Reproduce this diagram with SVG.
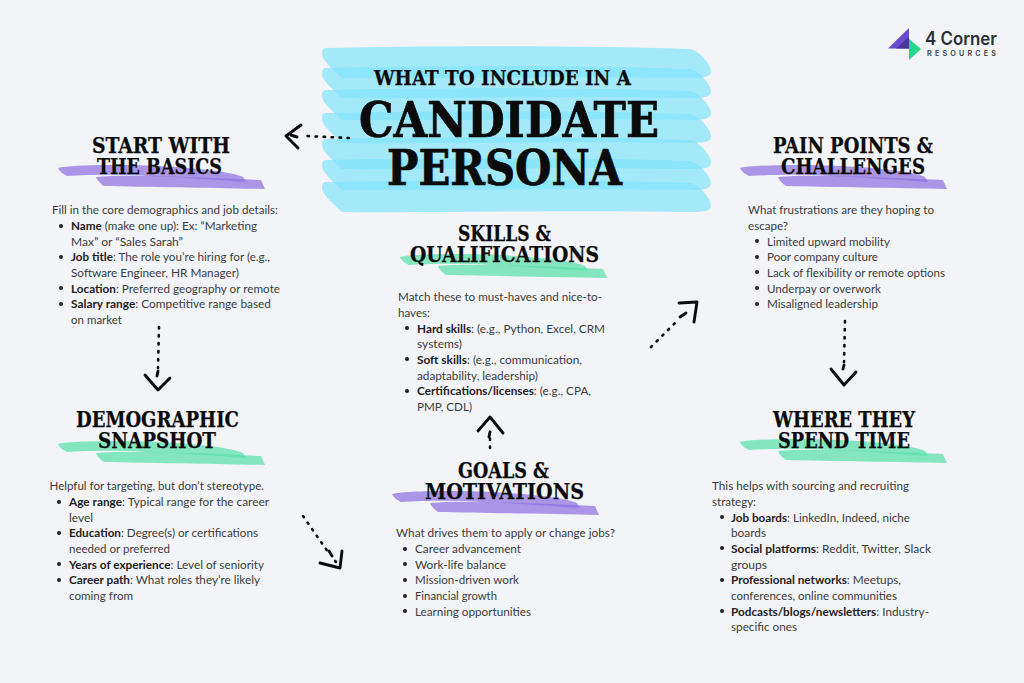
<svg xmlns="http://www.w3.org/2000/svg" width="1024" height="683" viewBox="0 0 1024 683">
<style>
.h{font-family:"DejaVu Serif Condensed","DejaVu Serif","Liberation Serif",serif;font-weight:700;fill:#0b0b0b;stroke:#0b0b0b;stroke-width:.25}
.h2{font-size:21.5px}
.big{stroke-width:.7}
.b{font-family:Lato,"Noto Sans",sans-serif;font-size:12px;fill:#3a3d40}
.b tspan{font-weight:700;fill:#1f2123}
.band{fill:#7fe3fb;opacity:.68}
.pp{fill:#8d70df;opacity:.72}
.gg{fill:#54dfa8;opacity:.7}
.dot{fill:none;stroke:#0b0b0b;stroke-width:2.6;stroke-linecap:round;stroke-dasharray:1.5 6.5}
.chev{fill:none;stroke:#0b0b0b;stroke-width:2.9;stroke-linecap:round;stroke-linejoin:round}
.bu{fill:#1f2123}
</style>
<defs>
<path id="bd" d="M325 -1C420 -3 560 -4 690 0C700 2 711 16 711 22C711 28 705 29 690 29C560 27 450 30 342 29C335 22 322 12 322 5C322 1 323 0 325 -1Z"/>
<g id="brushP">
<path class="pp" d="M0 4C10 1 60 0 100 2C140 4 175 8 185 13L188 18C160 16 120 13 90 12C60 10 30 11 9 12C5 10 1 7 0 4Z"/>
<path class="pp" d="M38 13C70 10 130 13 203 16L207 25C160 24 90 23 46 22C43 20 39 16 38 13Z"/>
</g>
<g id="brushG">
<path class="gg" d="M0 4C10 1 60 0 100 2C140 4 175 8 185 13L188 18C160 16 120 13 90 12C60 10 30 11 9 12C5 10 1 7 0 4Z"/>
<path class="gg" d="M38 13C70 10 130 13 203 16L207 25C160 24 90 23 46 22C43 20 39 16 38 13Z"/>
</g>
</defs>
<rect width="1024" height="683" fill="#f2f4f7"/>
<g id="title">
<use href="#bd" class="band" y="49"/><use href="#bd" class="band" y="69"/><use href="#bd" class="band" y="91"/><use href="#bd" class="band" y="114"/><use href="#bd" class="band" y="140"/><use href="#bd" class="band" y="161"/><use href="#bd" class="band" y="183"/>
<text class="h" x="374" y="85" font-size="21" textLength="257" lengthAdjust="spacingAndGlyphs">WHAT TO INCLUDE IN A</text>
<text class="h big" x="359" y="137" font-size="49" textLength="300" lengthAdjust="spacingAndGlyphs">CANDIDATE</text>
<text class="h big" x="387" y="185" font-size="49" textLength="235" lengthAdjust="spacingAndGlyphs">PERSONA</text>
</g>
<g id="logo">
<polygon points="888,48.5 909,28 909,48.5" fill="#6a4bd0"/>
<polygon points="909,39 921,49 909,60" fill="#26d68a"/>
<polygon points="896,48.5 909,37 909,48.5" fill="#4a3597"/>
<text x="925" y="45" font-family="Inter,'Liberation Sans',sans-serif" font-size="18" font-weight="600" fill="#2b2f33" textLength="72" lengthAdjust="spacingAndGlyphs">4 Corner</text>
<text x="927" y="56" font-family="Inter,'Liberation Sans',sans-serif" font-size="7.2" font-weight="600" fill="#3a3d40" textLength="69">RESOURCES</text>
</g>
<g id="connectors">
<path class="dot" d="M349 138L306 136"/><path class="chev" d="M301 125L286 136L298 148"/><path class="chev" d="M291 135L297 137" stroke-width="2"/>
<path class="dot" d="M159 327L158 368"/><path class="chev" d="M158 371L157 376M145 375L158 390L170 378"/>
<path class="dot" d="M303 516L328 552"/><path class="chev" d="M329 551L332 556M320 563L340 568L342 551"/><path class="dot" d="M335 561L336 562"/>
<path class="dot" d="M490 448L490 438"/><path class="chev" d="M490 432L489 437M478 431L490 417L503 433"/>
<path class="dot" d="M651 347L675 323"/><path class="chev" d="M680 317L686 313M679 303L697 302L694 322"/>
<path class="dot" d="M845 321L844 362"/><path class="chev" d="M844 365L843 369M831 369L844 385L856 372"/>
</g>
<g id="start-basics">
<use href="#brushP" x="58" y="164"/>
<text class="h h2" x="92" y="153" textLength="138" lengthAdjust="spacingAndGlyphs">START WITH</text>
<text class="h h2" x="97" y="174" textLength="125" lengthAdjust="spacingAndGlyphs">THE BASICS</text>
<text class="b" x="52" y="214" textLength="226" lengthAdjust="spacingAndGlyphs">Fill in the core demographics and job details:</text>
<circle class="bu" cx="61" cy="226" r="2"/><text class="b" x="71" y="230" textLength="186" lengthAdjust="spacingAndGlyphs"><tspan>Name</tspan> (make one up): Ex: “Marketing</text>
<text class="b" x="71" y="245.500" textLength="112" lengthAdjust="spacingAndGlyphs">Max” or “Sales Sarah”</text>
<circle class="bu" cx="61" cy="257" r="2"/><text class="b" x="71" y="261" textLength="199" lengthAdjust="spacingAndGlyphs"><tspan>Job title</tspan>: The role you’re hiring for (e.g.,</text>
<text class="b" x="71" y="277" textLength="168" lengthAdjust="spacingAndGlyphs">Software Engineer, HR Manager)</text>
<circle class="bu" cx="61" cy="288" r="2"/><text class="b" x="71" y="292.500" textLength="209" lengthAdjust="spacingAndGlyphs"><tspan>Location</tspan>: Preferred geography or remote</text>
<circle class="bu" cx="61" cy="304" r="2"/><text class="b" x="71" y="308" textLength="200" lengthAdjust="spacingAndGlyphs"><tspan>Salary range</tspan>: Competitive range based</text>
<text class="b" x="71" y="324" textLength="51" lengthAdjust="spacingAndGlyphs">on market</text>
</g>
<g id="demographic">
<use href="#brushG" x="58" y="440"/>
<text class="h h2" x="76" y="427" textLength="163" lengthAdjust="spacingAndGlyphs">DEMOGRAPHIC</text>
<text class="h h2" x="98" y="448" textLength="118" lengthAdjust="spacingAndGlyphs">SNAPSHOT</text>
<text class="b" x="49.500" y="490" textLength="214.500" lengthAdjust="spacingAndGlyphs">Helpful for targeting, but don’t stereotype.</text>
<circle class="bu" cx="59" cy="502" r="2"/><text class="b" x="69" y="506" textLength="200" lengthAdjust="spacingAndGlyphs"><tspan>Age range</tspan>: Typical range for the career</text>
<text class="b" x="69" y="521.500" textLength="24" lengthAdjust="spacingAndGlyphs">level</text>
<circle class="bu" cx="59" cy="533" r="2"/><text class="b" x="69" y="537" textLength="189" lengthAdjust="spacingAndGlyphs"><tspan>Education</tspan>: Degree(s) or certifications</text>
<text class="b" x="69" y="553" textLength="101" lengthAdjust="spacingAndGlyphs">needed or preferred</text>
<circle class="bu" cx="59" cy="564" r="2"/><text class="b" x="69" y="568.500" textLength="195" lengthAdjust="spacingAndGlyphs"><tspan>Years of experience</tspan>: Level of seniority</text>
<circle class="bu" cx="59" cy="580" r="2"/><text class="b" x="69" y="584" textLength="191" lengthAdjust="spacingAndGlyphs"><tspan>Career path</tspan>: What roles they’re likely</text>
<text class="b" x="69" y="600" textLength="64" lengthAdjust="spacingAndGlyphs">coming from</text>
</g>
<g id="skills">
<use href="#brushG" x="400" y="253"/>
<text class="h h2" x="458" y="240.500" textLength="93" lengthAdjust="spacingAndGlyphs">SKILLS &amp;</text>
<text class="h h2" x="410" y="261.500" textLength="189" lengthAdjust="spacingAndGlyphs">QUALIFICATIONS</text>
<text class="b" x="398" y="301" textLength="204" lengthAdjust="spacingAndGlyphs">Match these to must-haves and nice-to-</text>
<text class="b" x="398" y="317" textLength="32" lengthAdjust="spacingAndGlyphs">haves:</text>
<circle class="bu" cx="407" cy="328" r="2"/><text class="b" x="417" y="332.500" textLength="188" lengthAdjust="spacingAndGlyphs"><tspan>Hard skills</tspan>: (e.g., Python, Excel, CRM</text>
<text class="b" x="417" y="348" textLength="45" lengthAdjust="spacingAndGlyphs">systems)</text>
<circle class="bu" cx="407" cy="359" r="2"/><text class="b" x="417" y="363.500" textLength="165" lengthAdjust="spacingAndGlyphs"><tspan>Soft skills</tspan>: (e.g., communication,</text>
<text class="b" x="417" y="379.500" textLength="121" lengthAdjust="spacingAndGlyphs">adaptability, leadership)</text>
<circle class="bu" cx="407" cy="391" r="2"/><text class="b" x="417" y="395" textLength="174" lengthAdjust="spacingAndGlyphs"><tspan>Certifications/licenses</tspan>: (e.g., CPA,</text>
<text class="b" x="417" y="411" textLength="55" lengthAdjust="spacingAndGlyphs">PMP, CDL)</text>
</g>
<g id="goals">
<use href="#brushP" x="392" y="490"/>
<text class="h h2" x="458" y="477.500" textLength="91" lengthAdjust="spacingAndGlyphs">GOALS &amp;</text>
<text class="h h2" x="425" y="499" textLength="159" lengthAdjust="spacingAndGlyphs">MOTIVATIONS</text>
<text class="b" x="396" y="537" textLength="219" lengthAdjust="spacingAndGlyphs">What drives them to apply or change jobs?</text>
<circle class="bu" cx="405" cy="549" r="2"/><text class="b" x="415" y="553" textLength="106" lengthAdjust="spacingAndGlyphs">Career advancement</text>
<circle class="bu" cx="405" cy="564" r="2"/><text class="b" x="415" y="568.500" textLength="91" lengthAdjust="spacingAndGlyphs">Work-life balance</text>
<circle class="bu" cx="405" cy="580" r="2"/><text class="b" x="415" y="584" textLength="104" lengthAdjust="spacingAndGlyphs">Mission-driven work</text>
<circle class="bu" cx="405" cy="596" r="2"/><text class="b" x="415" y="600" textLength="82" lengthAdjust="spacingAndGlyphs">Financial growth</text>
<circle class="bu" cx="405" cy="611" r="2"/><text class="b" x="415" y="615.500" textLength="116" lengthAdjust="spacingAndGlyphs">Learning opportunities</text>
</g>
<g id="pain-points">
<use href="#brushP" x="740" y="164"/>
<text class="h h2" x="773" y="153" textLength="160" lengthAdjust="spacingAndGlyphs">PAIN POINTS &amp;</text>
<text class="h h2" x="781" y="174" textLength="144" lengthAdjust="spacingAndGlyphs">CHALLENGES</text>
<text class="b" x="748" y="214" textLength="186" lengthAdjust="spacingAndGlyphs">What frustrations are they hoping to</text>
<text class="b" x="748" y="230" textLength="40" lengthAdjust="spacingAndGlyphs">escape?</text>
<circle class="bu" cx="757" cy="241" r="2"/><text class="b" x="767" y="245.500" textLength="123" lengthAdjust="spacingAndGlyphs">Limited upward mobility</text>
<circle class="bu" cx="757" cy="257" r="2"/><text class="b" x="767" y="261" textLength="111" lengthAdjust="spacingAndGlyphs">Poor company culture</text>
<circle class="bu" cx="757" cy="272" r="2"/><text class="b" x="767" y="277" textLength="178" lengthAdjust="spacingAndGlyphs">Lack of flexibility or remote options</text>
<circle class="bu" cx="757" cy="288" r="2"/><text class="b" x="767" y="292.500" textLength="114" lengthAdjust="spacingAndGlyphs">Underpay or overwork</text>
<circle class="bu" cx="757" cy="304" r="2"/><text class="b" x="767" y="308" textLength="111" lengthAdjust="spacingAndGlyphs">Misaligned leadership</text>
</g>
<g id="where-time">
<use href="#brushG" x="740" y="438"/>
<text class="h h2" x="773" y="427" textLength="142" lengthAdjust="spacingAndGlyphs">WHERE THEY</text>
<text class="h h2" x="778" y="448" textLength="132" lengthAdjust="spacingAndGlyphs">SPEND TIME</text>
<text class="b" x="712" y="490" textLength="197" lengthAdjust="spacingAndGlyphs">This helps with sourcing and recruiting</text>
<text class="b" x="712" y="505.500" textLength="44" lengthAdjust="spacingAndGlyphs">strategy:</text>
<circle class="bu" cx="722" cy="517" r="2"/><text class="b" x="731" y="521.500" textLength="179" lengthAdjust="spacingAndGlyphs"><tspan>Job boards</tspan>: LinkedIn, Indeed, niche</text>
<text class="b" x="731" y="537" textLength="35" lengthAdjust="spacingAndGlyphs">boards</text>
<circle class="bu" cx="722" cy="548" r="2"/><text class="b" x="731" y="553" textLength="200" lengthAdjust="spacingAndGlyphs"><tspan>Social platforms</tspan>: Reddit, Twitter, Slack</text>
<text class="b" x="731" y="568.500" textLength="36" lengthAdjust="spacingAndGlyphs">groups</text>
<circle class="bu" cx="722" cy="580" r="2"/><text class="b" x="731" y="584" textLength="170" lengthAdjust="spacingAndGlyphs"><tspan>Professional networks</tspan>: Meetups,</text>
<text class="b" x="731" y="600" textLength="166" lengthAdjust="spacingAndGlyphs">conferences, online communities</text>
<circle class="bu" cx="722" cy="611" r="2"/><text class="b" x="731" y="615.500" textLength="198" lengthAdjust="spacingAndGlyphs"><tspan>Podcasts/blogs/newsletters</tspan>: Industry-</text>
<text class="b" x="731" y="631" textLength="66" lengthAdjust="spacingAndGlyphs">specific ones</text>
</g>
</svg>
